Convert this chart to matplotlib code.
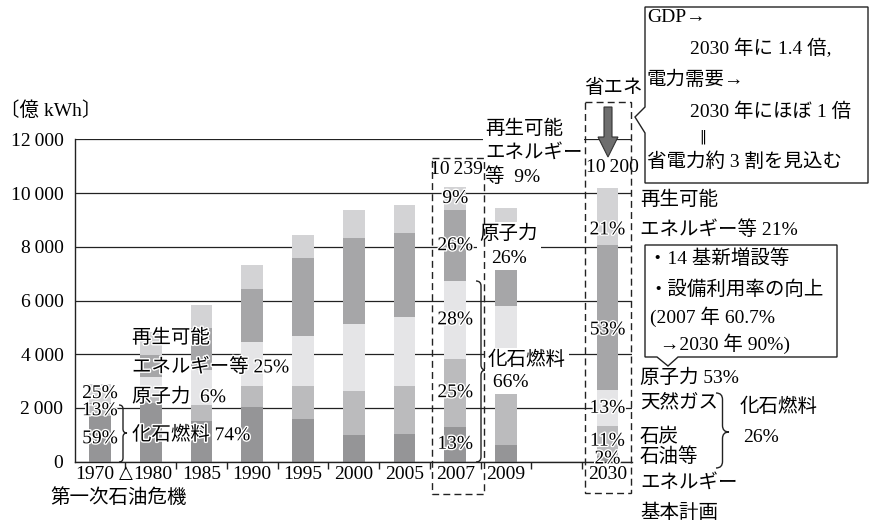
import matplotlib.pyplot as plt
import matplotlib.patheffects as pe
import matplotlib.transforms as mtransforms
from matplotlib.patches import Rectangle, Polygon, FancyArrow, PathPatch
from matplotlib.path import Path
import numpy as np

plt.rcParams['font.family'] = ['Liberation Serif', 'Noto Sans CJK JP', 'DejaVu Sans']

W, H = 869, 524
FS = 14

years = ['1970', '1980', '1985', '1990', '1995', '2000', '2005', '2007', '2009', '2030']
slots = [0, 1, 2, 3, 4, 5, 6, 7, 8, 10]

# 電源別発電電力量 (億kWh), stacked bottom to top
oil = [1711, 2196, 1515, 2047, 1601, 994, 1031, 1300, 622, 204]
coal = [377, 223, 595, 782, 1228, 1637, 1787, 2540, 2400, 1122]
gas = [58, 745, 1303, 1638, 1850, 2494, 2579, 2880, 2773, 1326]
nuclear = [29, 807, 1552, 1961, 2915, 3214, 3104, 2640, 2750, 5406]
renewable = [725, 856, 867, 893, 844, 1029, 1053, 879, 886, 2142]

series = [oil, coal, gas, nuclear, renewable]
colors = ['#959597', '#bbbbbd', '#e5e5e7', '#a6a6a8', '#d3d3d5']

fig = plt.figure(figsize=(W / 100, H / 100), dpi=100)
ax = fig.add_axes([74.6 / W, (H - 461.7) / H, 557.3 / W, 322.4 / H])

data = np.array(series, dtype=float)
bottoms = np.vstack([np.zeros(len(years)), np.cumsum(data, axis=0)[:-1]])
totals = data.sum(axis=0)
for vals, base, c in zip(data, bottoms, colors):
    ax.bar(slots, vals, width=0.43, bottom=base, color=c, linewidth=0)

ax.set_xlim(-0.5, 10.48)
ax.set_ylim(0, 12000)
ax.set_yticks(range(0, 12001, 2000))
ax.set_yticklabels(['0' if v == 0 else f'{v // 1000}\u2009000' for v in range(0, 12001, 2000)])
ax.set_xticks(slots, years)
ax.set_xticks(np.arange(0.5, 10, 1), minor=True)
ax.tick_params(axis='y', length=0, pad=8, labelsize=FS)
ax.tick_params(axis='x', which='major', length=0, pad=3, labelsize=FS)
ax.tick_params(axis='x', which='minor', length=5, width=1, color='#222')
ax.grid(axis='y', color='#222', lw=0.9)
ax.set_axisbelow(True)
for side in ('top', 'right'):
    ax.spines[side].set_visible(False)
for side in ('left', 'bottom'):
    ax.spines[side].set_color('#222')
    ax.spines[side].set_linewidth(1)

# make room for the oil-crisis triangle between 1970 and 1980
xlabels = ax.get_xticklabels()
for lab, dx in ((xlabels[0], -5), (xlabels[1], 2)):
    lab.set_transform(lab.get_transform()
                      + mtransforms.ScaledTranslation(dx / 100, 0, fig.dpi_scale_trans))

halo = [pe.withStroke(linewidth=2, foreground='white')]


def share(i, k):
    return round(data[k, i] / totals[i] * 100)


# percentage labels inside the 1970, 2007 and 2030 bars
shift = {(9, 4): -500, (9, 3): -450}
for i, ks in ((0, (0, 1, 4)), (7, range(5)), (9, range(5))):
    for k in ks:
        y = bottoms[k, i] + data[k, i] / 2 + shift.get((i, k), 0)
        ax.text(slots[i], y, f'{share(i, k)}%', ha='center', va='center',
                fontsize=FS, path_effects=halo, zorder=3)

# overlay in pixel coordinates for annotations
ov = fig.add_axes([0, 0, 1, 1], zorder=5)
ov.set_xlim(0, W)
ov.set_ylim(H, 0)
ov.axis('off')
ov.patch.set_visible(False)


def label(x, y, s, ha='left', va='center', size=FS, **kw):
    return ov.text(x, y, s, ha=ha, va=va, fontsize=size, **kw)


def brace(x0, y0, y1, w, ymid=None):
    ymid = (y0 + y1) / 2 if ymid is None else ymid
    xm, r = x0 + w / 2, w / 2
    verts = [(x0, y0), (xm, y0), (xm, y0 + r), (xm, ymid - r),
             (xm, ymid), (x0 + w, ymid), (xm, ymid), (xm, ymid + r),
             (xm, y1 - r), (xm, y1), (x0, y1)]
    codes = [Path.MOVETO, Path.CURVE3, Path.CURVE3, Path.LINETO,
             Path.CURVE3, Path.CURVE3, Path.CURVE3, Path.CURVE3,
             Path.LINETO, Path.CURVE3, Path.CURVE3]
    ov.add_patch(PathPatch(Path(verts, codes), fill=False, lw=1, ec='#222'))


def fmt_total(v):
    v = int(round(v))
    return f'{v // 1000}\u2009{v % 1000:03d}'


white = dict(boxstyle='square,pad=0.15', fc='white', ec='none')

label(0, 111, '〔億 kWh〕')
label(125.5, 473, '△', ha='center', size=13, family='DejaVu Sans')
label(50, 498, '第一次石油危機')

# 1970 labels
label(132, 338, '再生可能', path_effects=halo)
label(132, 367, 'エネルギー等 25%', path_effects=halo)
label(132, 397, '原子力  6%', path_effects=halo)
brace(119, 405, 462, 8, 433)
label(132, 435, '化石燃料 74%', path_effects=halo)

# 2007 labels
i07 = years.index('2007')
fossil07 = round(data[:3, i07].sum() / totals[i07] * 100)
label(485, 153, f'再生可能\nエネルギー\n等  {share(i07, 4)}%', linespacing=1.4,
      bbox=dict(boxstyle='square,pad=0.1', fc='white', ec='none'))
label(456, 170, fmt_total(totals[i07]), ha='center', zorder=4)
label(509, 246, f'原子力\n{share(i07, 3)}%', ha='center', multialignment='center',
      linespacing=1.5, bbox=white)
label(488, 371, f'化石燃料\n {fossil07}%', linespacing=1.35, bbox=white)
brace(476, 281, 462, 10, 370)
ov.add_patch(Rectangle((432, 158), 52, 336, fill=False, ec='#222', lw=1,
                       ls=(0, (5, 3)), zorder=4))

# 2030 labels
i30 = years.index('2030')
fossil30 = round(data[:3, i30].sum() / totals[i30] * 100)
label(584, 88, '省エネ')
ov.add_patch(FancyArrow(608, 107, 0, 50, width=8, head_width=20, head_length=20,
                        length_includes_head=True, fc='#6e6e6e', ec='#333', lw=0.8,
                        zorder=4))
label(612, 167, fmt_total(totals[i30]), ha='center')
ov.add_patch(Rectangle((585, 102), 46, 391, fill=False, ec='#222', lw=1,
                       ls=(0, (5, 3)), zorder=4))

label(640, 200, '再生可能')
label(640, 230, f'エネルギー等 {share(i30, 4)}%')
label(640, 378, f'原子力 {share(i30, 3)}%')
label(640, 403, '天然ガス')
label(640, 437, '石炭')
label(640, 457, '石油等')
brace(716, 393, 468, 13, 432)
label(740, 407, '化石燃料')
label(743, 438, f'{fossil30}%')
label(640, 483, 'エネルギー')
label(640, 513, '基本計画')

# callout: demand outlook
ov.add_patch(Polygon([(645, 7), (868, 7), (868, 183), (645, 183), (645, 133),
                      (635, 117), (645, 107)], closed=True, fill=False,
                     ec='#222', lw=1))
label(647, 17, 'GDP→')
label(690, 48, '2030 年に 1.4 倍,')
label(647, 80, '電力需要→')
label(690, 112, '2030 年にほぼ 1 倍')
label(703, 137, '‖', ha='center', size=10, family='DejaVu Sans')
label(647, 162, '省電力約 3 割を見込む')

# callout: nuclear expansion
ov.add_patch(Polygon([(645, 245), (837, 245), (837, 357), (678, 357), (668, 366),
                      (657, 357), (645, 357)], closed=True, fill=False,
                     ec='#222', lw=1))
label(648, 259, '・14 基新増設等')
label(648, 290, '・設備利用率の向上')
label(650, 317, '(2007 年 60.7%')
label(655, 344, ' →2030 年 90%)')

fig.savefig('out.png', dpi=100)
